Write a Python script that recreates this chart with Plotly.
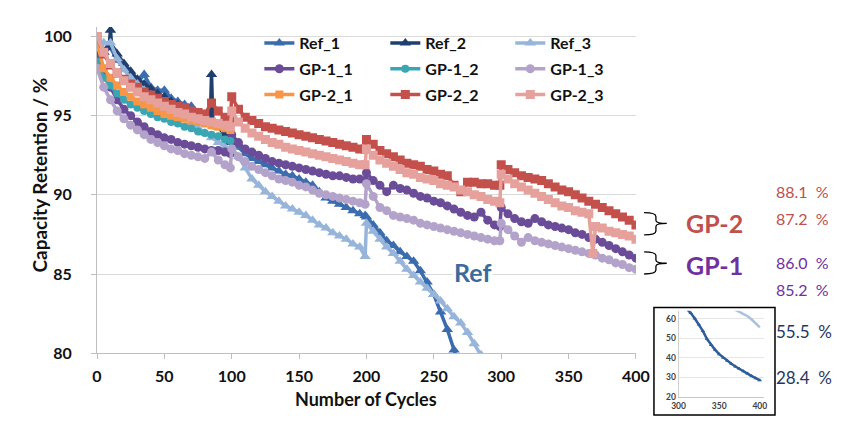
import plotly.graph_objects as go

W, H = 852, 428
ML, MR, MT, MB = 89, 12, 19, 10
PW, PH = W - ML - MR, H - MT - MB


def px2x(px):
    return (px - ML) / PW


def py2y(py):
    return (H - MB - py) / PH


# ---------------- data ----------------
cyc_a = list(range(0, 100, 5)) + [99]
cyc_b = list(range(100, 200, 5)) + [199]
cyc_c = list(range(200, 300, 5)) + [299]
cyc_d = list(range(300, 405, 5))
cycles_early = cyc_a
cycles_full = cyc_a + cyc_b + cyc_c + cyc_d
cycles_gp23 = cyc_a + cyc_b + cyc_c + list(range(300, 366, 5)) + [368] + list(range(370, 405, 5))
cycles_ref2 = [0, 5, 9, 10, 11, 15, 20, 25, 30, 35, 40, 45, 50, 55, 60, 65, 70, 75, 80, 84, 85, 86, 90, 95, 99]

ref_1 = [98.1, 99.0, 99.3, 98.5, 98.0, 97.5, 97.1, 97.6, 96.8, 96.6, 96.6, 96.1, 95.9, 95.7, 95.6, 95.2, 95.0, 94.7, 94.3, 93.7, 93.3,
         93.5, 93.0, 92.6, 92.3, 92.1, 91.9, 91.7, 91.5, 91.3, 91.2, 91.0, 90.8, 90.6, 90.2, 89.8, 89.6, 89.4, 89.2, 89.0, 88.8, 88.7,
         88.6, 88.1, 87.6, 87.1, 86.8, 86.4, 86.1, 85.8, 85.2, 84.5, 83.7, 82.6, 81.5, 80.2, 79.0, 77.6, 76.1, 74.5, 72.8, 71.0, 69.5,
         69.0, 67.0, 65.0, 62.8, 60.0, 57.0, 53.6, 49.5, 46.5, 44.0, 41.8, 40.0, 38.4, 36.9, 35.5, 34.2, 33.0, 31.9, 30.6, 29.5, 28.4]
ref_2 = [98.3, 99.0, 99.4, 100.4, 99.3, 98.9, 98.3, 97.8, 97.3, 97.0, 96.7, 96.4, 96.2, 95.9, 95.7, 95.4, 95.2, 95.0, 94.8,
         94.6, 97.6, 94.6, 94.3, 93.8, 93.3]
ref_3 = [98.5, 99.6, 99.6, 98.6, 97.9, 97.4, 97.0, 96.6, 96.3, 96.0, 95.7, 95.4, 95.1, 94.8, 94.5, 94.2, 93.9, 93.6, 93.3, 93.0, 92.8,
         93.0, 92.4, 91.7, 91.0, 90.6, 90.2, 89.9, 89.6, 89.3, 89.1, 88.9, 88.7, 88.4, 88.1, 87.9, 87.6, 87.4, 87.2, 86.9, 86.7, 86.1,
         88.2, 87.7, 87.2, 86.7, 86.3, 85.8, 85.3, 84.9, 84.5, 84.1, 83.7, 83.3, 82.8, 82.3, 81.9, 81.3, 80.6, 79.9, 79.2, 78.4, 77.8,
         77.6, 76.7, 75.8, 74.9, 74.0, 73.1, 72.2, 71.3, 70.4, 69.5, 68.6, 67.6, 66.6, 65.6, 64.5, 63.5, 62.5, 61.2, 59.5, 57.5, 55.5]
gp1_1 = [98.8, 97.6, 96.8, 96.0, 95.4, 95.0, 94.6, 94.3, 94.0, 93.8, 93.6, 93.5, 93.3, 93.2, 93.1, 93.0, 92.9, 92.8, 92.8, 92.7, 92.6,
         93.8, 93.3, 92.9, 92.7, 92.5, 92.3, 92.1, 92.0, 91.9, 91.8, 91.7, 91.6, 91.5, 91.4, 91.3, 91.2, 91.2, 91.1, 91.0, 91.0, 90.9,
         91.4, 90.9, 90.6, 90.2, 90.6, 90.4, 90.3, 90.1, 89.9, 89.8, 89.6, 89.5, 89.3, 89.1, 88.9, 88.7, 88.6, 88.9, 88.4, 88.1, 88.0,
         89.2, 88.8, 88.5, 88.3, 88.2, 88.5, 88.3, 88.1, 88.0, 87.9, 87.8, 87.6, 87.5, 87.3, 87.2, 87.0, 86.8, 86.6, 86.4, 86.2, 86.0]
gp1_2 = [98.4, 97.4, 96.9, 96.4, 96.0, 95.7, 95.5, 95.3, 95.1, 94.9, 94.8, 94.6, 94.5, 94.3, 94.2, 94.0, 93.9, 93.8, 93.7, 93.5, 93.4]
gp1_3 = [98.0, 96.8, 96.0, 95.3, 94.8, 94.4, 94.1, 93.8, 93.5, 93.3, 93.1, 92.9, 92.8, 92.6, 92.5, 92.4, 92.3, 92.7, 92.2, 91.9, 91.7,
         92.9, 92.4, 92.1, 91.8, 91.6, 91.4, 91.2, 91.0, 90.9, 90.8, 90.6, 90.5, 90.3, 90.1, 90.0, 89.9, 89.8, 89.7, 89.6, 89.5, 89.4,
         90.7, 89.9, 89.2, 89.0, 88.7, 88.6, 88.5, 88.4, 88.2, 88.1, 88.0, 87.9, 87.8, 87.7, 87.6, 87.5, 87.4, 87.3, 87.2, 87.1, 87.1,
         88.2, 87.8, 87.4, 87.0, 87.3, 87.1, 87.0, 86.9, 86.8, 86.7, 86.6, 86.5, 86.4, 86.3, 86.2, 86.0, 85.9, 85.7, 85.6, 85.4, 85.3]
gp2_1 = [99.6, 98.0, 97.4, 96.9, 96.5, 96.2, 95.9, 95.7, 95.5, 95.3, 95.1, 95.0, 94.9, 94.8, 94.7, 94.6, 94.5, 94.4, 94.3, 94.2, 94.1]
gp2_2 = [100.0, 98.9, 98.2, 97.7, 97.3, 97.0, 96.8, 96.5, 96.3, 96.1, 95.9, 95.7, 95.6, 95.5, 95.3, 95.2, 95.1, 95.8, 95.3, 94.9, 94.8,
         96.2, 95.4, 94.9, 94.7, 94.5, 94.3, 94.2, 94.1, 94.0, 93.9, 93.8, 93.7, 93.6, 93.5, 93.4, 93.3, 93.2, 93.1, 93.0, 92.9, 92.9,
         93.5, 93.2, 92.8, 92.6, 92.4, 92.2, 92.0, 91.9, 91.8, 91.6, 91.5, 91.3, 91.2, 90.6, 90.2, 90.8, 90.8, 90.7, 90.7, 90.6, 90.6,
         91.9, 91.6, 91.4, 91.2, 91.1, 91.0, 90.9, 90.7, 90.5, 90.3, 90.2, 90.0, 89.8, 89.6, 89.4, 89.2, 89.0, 88.8, 88.6, 88.4, 88.1]
gp2_3 = [100.0, 99.0, 98.3, 97.7, 97.2, 96.8, 96.5, 96.2, 96.0, 95.8, 95.6, 95.4, 95.2, 95.1, 94.9, 94.8, 94.7, 94.6, 94.5, 94.4, 94.3,
         95.3, 94.6, 94.2, 93.9, 93.7, 93.5, 93.3, 93.2, 93.0, 92.9, 92.8, 92.7, 92.6, 92.5, 92.4, 92.3, 92.2, 92.1, 92.0, 91.9, 91.9,
         92.9, 92.5, 92.2, 92.0, 91.8, 91.6, 91.4, 91.3, 91.1, 91.0, 90.9, 90.7, 90.6, 90.5, 90.3, 90.2, 90.0, 89.9, 89.7, 89.6, 89.5,
         91.3, 91.0, 90.7, 90.5, 90.3, 90.1, 89.9, 89.7, 89.5, 89.3, 89.2, 89.0, 88.9, 88.8, 86.3, 88.0, 87.9, 87.7, 87.6, 87.5, 87.4, 87.2]

x_ticks = [0, 50, 100, 150, 200, 250, 300, 350, 400]
y_ticks = [80, 85, 90, 95, 100]
inset_x_ticks = [300, 350, 400]
inset_y_ticks = [20, 30, 40, 50, 60]

end_labels = ["88.1  %", "87.2  %", "86.0  %", "85.2  %", "55.5  %", "28.4  %"]

FONT = "Lato"

series = [
    ("Ref_1", cycles_full, ref_1, "#3A6CAE", "triangle-up", 10, "legend"),
    ("Ref_2", cycles_ref2, ref_2, "#1F3F6E", "triangle-up", 10, "legend2"),
    ("Ref_3", cycles_full, ref_3, "#97B5DA", "triangle-up", 10, "legend3"),
    ("GP-1_1", cycles_full, gp1_1, "#6A4C98", "circle", 9, "legend"),
    ("GP-1_2", cycles_early, gp1_2, "#3AA5B3", "circle", 8, "legend2"),
    ("GP-1_3", cycles_full, gp1_3, "#B3A3CA", "circle", 9, "legend3"),
    ("GP-2_1", cycles_early, gp2_1, "#F79646", "square", 8, "legend"),
    ("GP-2_2", cycles_full, gp2_2, "#C4504C", "square", 9, "legend2"),
    ("GP-2_3", cycles_gp23, gp2_3, "#E6A19C", "square", 9, "legend3"),
]

fig = go.Figure()
for name, cx, vals, color, sym, size, leg in series:
    fig.add_trace(go.Scatter(
        x=cx, y=vals, name=name, mode="lines+markers",
        line=dict(color=color, width=3.5),
        marker=dict(symbol=sym, size=size, color=color),
        legend=leg, legendgroup=name, xaxis="x", yaxis="y",
    ))

# inset (cycles 300-400, full range)
fig.add_trace(go.Scatter(x=cycles_full, y=ref_3, mode="lines", showlegend=False,
                         line=dict(color="#A9C1DF", width=2.5), xaxis="x2", yaxis="y2"))
fig.add_trace(go.Scatter(x=cycles_full, y=ref_1, mode="lines+markers", showlegend=False,
                         line=dict(color="#2F5D9A", width=2.5),
                         marker=dict(symbol="triangle-up", size=4, color="#2F5D9A"),
                         xaxis="x2", yaxis="y2"))

tickfont = dict(family=FONT, size=16, color="#111111", weight="bold")
legfont = dict(family=FONT, size=16, color="#111111", weight="bold")


def legend_at(px):
    return dict(x=px2x(px), y=py2y(18), xanchor="left", yanchor="top",
                bgcolor="rgba(0,0,0,0)", font=legfont, tracegroupgap=2,
                itemwidth=30, orientation="v")


fig.update_layout(
    width=W, height=H,
    margin=dict(l=ML, r=MR, t=MT, b=MB),
    paper_bgcolor="white", plot_bgcolor="white",
    font=dict(family=FONT),
    legend=legend_at(254),
    legend2=legend_at(382),
    legend3=legend_at(509),
    xaxis=dict(domain=[0, px2x(636.7)], range=[0, 400], tickvals=x_ticks,
               showline=True, linecolor="#BFBFBF", linewidth=1, ticks="outside",
               ticklen=5, tickcolor="#BFBFBF", showgrid=False, zeroline=False,
               tickfont=tickfont, ticklabelstandoff=4, anchor="y"),
    yaxis=dict(domain=[py2y(352.7), 1], range=[80, 100.6], tickvals=y_ticks,
               showline=True, linecolor="#BFBFBF", linewidth=1, ticks="outside",
               ticklen=5, tickcolor="#BFBFBF", showgrid=True, gridcolor="#D9D9D9",
               zeroline=False, tickfont=tickfont, ticklabelstandoff=16, anchor="x"),
    xaxis2=dict(domain=[px2x(680), px2x(766.7)], range=[300, 405], tickvals=inset_x_ticks,
                showline=True, linecolor="#C8C8C8", ticks="", showgrid=False, zeroline=False,
                tickfont=dict(family=FONT, size=8.5, color="#404040", weight="bold"),
                ticklabelstandoff=1, anchor="y2"),
    yaxis2=dict(domain=[py2y(397.3), py2y(309.3)], range=[20, 64], tickvals=inset_y_ticks,
                showline=True, linecolor="#D0D0D0", ticks="", showgrid=True, gridcolor="#E6E6E6",
                zeroline=False, tickfont=dict(family=FONT, size=8.5, color="#404040", weight="bold"),
                anchor="x2"),
)

# inset frame
fig.add_shape(type="rect", xref="paper", yref="paper",
              x0=px2x(655), x1=px2x(778), y0=py2y(416), y1=py2y(306),
              line=dict(color="black", width=1.5), fillcolor="rgba(0,0,0,0)")


def brace(top, tip, bottom, left=645, mid=657, right=668):
    pts = lambda x, y: f"{px2x(x):.5f},{py2y(y):.5f}"
    return (f"M {pts(left, top)} Q {pts(mid, top)} {pts(mid, top + 4)} "
            f"L {pts(mid, tip - 3)} Q {pts(mid, tip)} {pts(right, tip)} "
            f"Q {pts(mid, tip)} {pts(mid, tip + 3)} L {pts(mid, bottom - 4)} "
            f"Q {pts(mid, bottom)} {pts(left, bottom)}")


for t, m, b in [(209, 220, 231.7), (249, 260.7, 271.7)]:
    fig.add_shape(type="path", xref="paper", yref="paper", path=brace(t, m, b),
                  line=dict(color="black", width=1.3))


def ann(text, px, py, size, color, bold=False, angle=0, bg=None, xanchor="center"):
    fig.add_annotation(text=text, x=px2x(px), y=py2y(py), xref="paper", yref="paper",
                       showarrow=False, textangle=angle, xanchor=xanchor, yanchor="middle",
                       bgcolor=bg,
                       font=dict(family=FONT, size=size, color=color,
                                 weight="bold" if bold else "normal"))


ann("Capacity Retention / %", 31, 170, 19, "#111111", bold=True, angle=-90)
ann("Number of Cycles", 362, 400, 18, "#111111", bold=True)
ann("Ref", 471, 270, 25, "#3B6A9C", bold=True, bg="white")
ann("GP-2", 717, 220, 25, "#C0504D", bold=True)
ann("GP-1", 717, 262, 25, "#7030A0", bold=True)

label_pos = [(187, "#C0504D", 16), (215, "#C0504D", 16), (260, "#7030A0", 16),
             (288, "#7030A0", 16), (331, "#1F3864", 17), (378, "#1F3864", 17)]
for txt, (py, col, sz) in zip(end_labels, label_pos):
    ann(txt, 777, py, sz, col, xanchor="left")

fig.write_html("out.html")
